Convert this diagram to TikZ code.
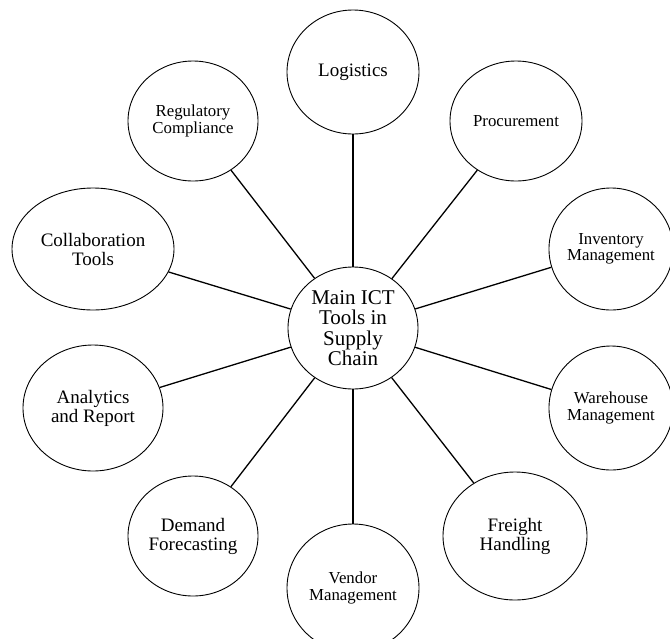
\documentclass[tikz,border=0pt]{standalone}
\usepackage{fontspec}
\setmainfont{Liberation Serif}
\usetikzlibrary{shapes.geometric}
\tikzset{
  bub/.style={ellipse, draw=black, line width=0.9pt, inner sep=0pt, align=center, fill=white},
  big/.style={font=\fontsize{19}{19}\selectfont},
  small/.style={font=\fontsize{16.8}{16.5}\selectfont},
  hub/.style={font=\fontsize{21}{20.5}\selectfont},
  link/.style={draw=black, line width=1.3pt}
}
\begin{document}
\begin{tikzpicture}[x=1pt,y=-1pt]
\useasboundingbox (0,0) rectangle (670,638);
\clip (0,0) rectangle (670,638);
\node[bub,hub,minimum width=130pt,minimum height=122pt] (c) at (353,328) {Main ICT\\Tools in\\Supply\\Chain};
\node[bub,big,minimum width=132pt,minimum height=124pt] (log) at (353,72) {Logistics};
\node[bub,small,minimum width=132pt,minimum height=120pt] (proc) at (516,121) {Procurement};
\node[bub,small,minimum width=122pt,minimum height=122pt] (inv) at (611,249) {Inventory\\Management};
\node[bub,small,minimum width=122pt,minimum height=124pt] (ware) at (611,408) {Warehouse\\Management};
\node[bub,big,minimum width=144pt,minimum height=128pt] (frt) at (515,536) {Freight\\Handling};
\node[bub,small,minimum width=132pt,minimum height=128pt] (ven) at (353,588) {Vendor\\Management};
\node[bub,big,minimum width=130pt,minimum height=120pt] (dem) at (193,536) {Demand\\Forecasting};
\node[bub,big,minimum width=140pt,minimum height=126pt] (ana) at (93,408) {Analytics\\and Report};
\node[bub,big,minimum width=162pt,minimum height=122pt] (col) at (93,249) {Collaboration\\Tools};
\node[bub,small,minimum width=130pt,minimum height=120pt] (reg) at (193,121) {Regulatory\\Compliance};
\foreach \n in {log,proc,inv,ware,frt,ven,dem,ana,col,reg}
  \draw[link] (c) -- (\n);
\end{tikzpicture}
\end{document}
